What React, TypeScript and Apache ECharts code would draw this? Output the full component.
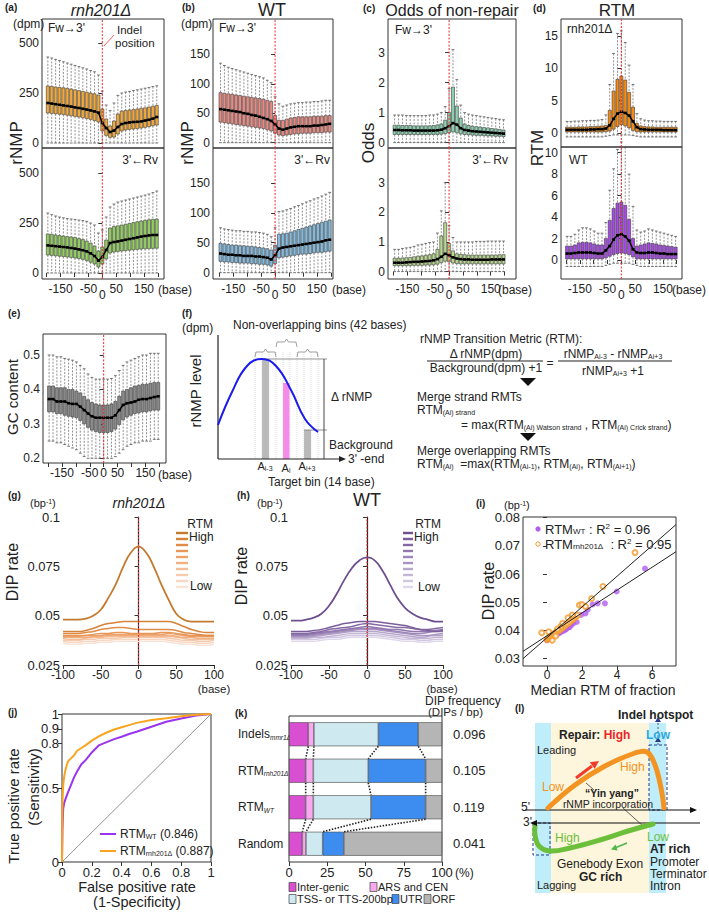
import React, { useEffect, useRef } from 'react';
import * as echarts from 'echarts';

const FONT = '"Liberation Sans", Arial, Helvetica, sans-serif';

// ---------- box-plot panels (a)-(e): bin centres (bases) ----------
const binPos = [-196,-182,-168,-154,-140,-126,-112,-98,-84,-70,-56,-42,-28,-14,0,14,28,42,56,70,84,98,112,126,140,154,168,182,196];

// (a) rnh201Δ forward
const aFwMed = [200,197,194,191,188,185,182,178,175,171,167,163,158,152,100,75,55,62,80,95,100,103,105,106,108,112,116,122,130];
const aFwQ3 = [285,283,280,278,276,273,270,266,262,258,254,250,246,240,170,120,85,110,145,160,163,165,167,170,173,176,180,184,188];
const aFwQ1 = [150,148,146,144,142,139,136,133,130,126,122,118,112,105,60,38,28,30,45,60,65,68,70,72,75,78,82,86,90];
const aFwHi = [430,425,418,412,406,400,394,388,382,376,370,362,356,340,260,190,162,200,238,250,255,258,262,266,270,274,278,282,286];
const aFwLo = [0,0,0,0,0,0,0,0,0,0,0,0,0,0,0,0,0,0,0,0,0,0,0,0,0,0,0,0,0];
// (a) rnh201Δ reverse
const aRvMed = [138,136,134,132,130,128,125,122,118,114,108,98,85,62,80,115,150,155,158,162,166,170,174,178,182,185,188,190,190];
const aRvQ3 = [195,193,190,187,185,182,180,177,172,167,160,150,135,110,130,165,225,232,236,240,244,248,252,256,260,263,266,268,270];
const aRvQ1 = [90,88,86,84,82,80,78,75,72,68,62,54,45,30,45,70,100,105,108,110,112,114,116,118,120,121,122,123,124];
const aRvHi = [300,292,285,280,276,272,270,268,265,262,258,250,240,200,215,280,330,345,355,360,365,370,375,380,385,390,395,402,410];
const aRvLo = [0,0,0,0,0,0,0,0,0,0,0,0,0,0,0,0,0,0,0,0,0,0,0,0,0,0,0,0,0];
// (b) WT forward
const bFwMed = [57,56,55,54,53,52,50,49,47,46,44,42,40,37,31,24,22,24,26,27,28,28,28,28,29,29,30,31,32];
const bFwQ3 = [85,84,83,82,81,80,79,78,77,76,75,74,72,70,46,38,38,40,42,43,44,44,44,44,45,45,45,46,46];
const bFwQ1 = [35,34,33,32,31,30,29,28,27,26,25,24,22,20,16,13,12,13,14,15,15,16,16,16,17,17,17,18,18];
const bFwHi = [135,131,128,126,124,122,120,118,116,114,112,110,106,102,78,66,62,64,66,67,68,68,69,69,70,70,71,72,72];
const bFwLo = [0,0,0,0,0,0,0,0,0,0,0,0,0,0,0,0,0,0,0,0,0,0,0,0,0,0,0,0,0];
// (b) WT reverse
const bRvMed = [32,31,30,30,29,29,28,28,28,27,27,26,25,22,29,40,42,43,44,45,46,47,48,49,50,51,52,54,55];
const bRvQ3 = [49,48,47,46,46,45,45,44,44,43,42,41,40,38,46,64,65,66,68,70,72,74,76,78,80,82,84,86,88];
const bRvQ1 = [19,18,18,17,17,16,16,16,15,15,14,14,13,11,15,25,26,27,28,29,30,31,31,32,33,34,34,35,36];
const bRvHi = [75,73,72,71,70,70,69,69,68,68,67,66,64,60,75,102,103,105,107,110,112,115,118,120,123,125,128,131,134];
const bRvLo = [0,0,0,0,0,0,0,0,0,0,0,0,0,0,0,0,0,0,0,0,0,0,0,0,0,0,0,0,0];
// (c) odds forward
const cFwMed = [0.42,0.42,0.41,0.41,0.41,0.40,0.40,0.40,0.40,0.40,0.40,0.41,0.43,0.48,0.55,0.65,0.60,0.48,0.42,0.40,0.38,0.37,0.36,0.35,0.34,0.33,0.32,0.31,0.30];
const cFwQ3 = [0.58,0.58,0.57,0.57,0.57,0.56,0.56,0.56,0.56,0.56,0.57,0.59,0.62,0.75,1.00,1.85,1.22,0.82,0.62,0.57,0.55,0.53,0.52,0.50,0.49,0.47,0.46,0.44,0.42];
const cFwQ1 = [0.27,0.27,0.27,0.27,0.27,0.27,0.27,0.27,0.27,0.27,0.27,0.27,0.28,0.30,0.33,0.36,0.33,0.29,0.27,0.26,0.25,0.24,0.24,0.23,0.22,0.22,0.21,0.21,0.20];
const cFwHi = [0.92,0.92,0.92,0.90,0.90,0.90,0.90,0.90,0.90,0.92,0.92,0.95,1.00,1.20,1.80,3.10,2.10,1.25,1.00,0.95,0.92,0.90,0.88,0.86,0.84,0.82,0.80,0.78,0.76];
const cFwLo = [0,0,0,0,0,0,0,0,0,0,0,0,0,0,0,0,0,0,0,0,0,0,0,0,0,0,0,0,0];
// (c) odds reverse
const cRvMed = [0.30,0.30,0.30,0.31,0.32,0.33,0.33,0.34,0.35,0.36,0.38,0.42,0.50,0.60,0.55,0.48,0.44,0.42,0.41,0.41,0.40,0.40,0.40,0.40,0.40,0.41,0.41,0.41,0.41];
const cRvQ3 = [0.45,0.45,0.46,0.47,0.48,0.50,0.52,0.53,0.55,0.57,0.60,0.75,1.20,1.65,0.95,0.70,0.60,0.58,0.57,0.56,0.56,0.56,0.56,0.56,0.56,0.56,0.56,0.57,0.57];
const cRvQ1 = [0.20,0.20,0.20,0.20,0.20,0.21,0.21,0.21,0.22,0.22,0.23,0.25,0.30,0.35,0.33,0.29,0.27,0.26,0.26,0.26,0.26,0.26,0.26,0.26,0.26,0.26,0.26,0.26,0.26];
const cRvHi = [0.75,0.75,0.78,0.80,0.82,0.85,0.90,0.92,0.95,0.98,1.00,1.30,2.05,3.00,1.55,1.15,1.00,1.00,1.00,1.00,1.00,1.02,1.02,1.02,1.03,1.03,1.03,1.03,1.03];
const cRvLo = [0,0,0,0,0,0,0,0,0,0,0,0,0,0,0,0,0,0,0,0,0,0,0,0,0,0,0,0,0];
// (d) RTM rnh201Δ
const dRnMed = [0.50,0.50,0.50,0.50,0.50,0.50,0.55,0.55,0.60,0.60,0.70,1.20,2.20,3.00,3.30,3.10,2.70,1.80,0.90,0.60,0.55,0.50,0.50,0.50,0.50,0.45,0.45,0.45,0.45];
const dRnQ3 = [0.90,0.90,0.90,0.95,0.95,0.95,1.00,1.00,1.05,1.10,1.20,3.50,6.50,8.30,8.80,8.20,6.30,4.00,1.50,1.10,1.00,0.95,0.95,0.90,0.90,0.90,0.90,0.90,0.90];
const dRnQ1 = [0.15,0.15,0.15,0.15,0.15,0.15,0.15,0.15,0.15,0.15,0.20,0.30,0.60,1.00,1.30,1.10,0.80,0.40,0.20,0.15,0.15,0.15,0.15,0.15,0.15,0.15,0.15,0.15,0.15];
const dRnHi = [1.80,1.80,1.85,1.85,1.90,1.90,1.95,1.95,2.00,2.10,2.80,7.50,12.3,15.4,15.8,14.0,10.5,7.50,3.00,2.20,2.00,1.90,1.90,1.85,1.85,1.80,1.80,1.80,1.80];
const dRnLo = [-0.6,-0.6,-0.6,-0.6,-0.6,-0.6,-0.6,-0.6,-0.6,-0.6,-0.5,-0.4,-0.3,-0.3,-0.3,-0.3,-0.3,-0.4,-0.5,-0.6,-0.6,-0.6,-0.6,-0.6,-0.6,-0.6,-0.6,-0.6,-0.6];
// (d) RTM WT
const dWtMed = [0.60,0.60,0.65,0.70,0.70,0.70,0.70,0.65,0.60,0.60,0.90,1.30,1.90,2.30,2.40,2.20,1.80,1.00,0.70,0.65,0.65,0.70,0.70,0.65,0.60,0.60,0.55,0.55,0.55];
const dWtQ3 = [1.30,1.30,1.40,1.60,1.65,1.65,1.60,1.50,1.40,1.40,2.00,3.70,4.80,5.30,5.40,5.10,3.80,2.00,1.30,1.40,1.50,1.60,1.55,1.50,1.40,1.35,1.30,1.25,1.20];
const dWtQ1 = [0.10,0.10,0.10,0.10,0.10,0.10,0.10,0.10,0.10,0.10,0.20,0.35,0.50,0.60,0.65,0.60,0.50,0.30,0.10,0.10,0.10,0.10,0.10,0.10,0.10,0.10,0.10,0.10,0.10];
const dWtHi = [2.20,2.20,2.40,2.80,3.00,3.00,2.90,2.70,2.50,2.50,3.50,6.50,8.50,10.3,11.0,10.5,8.00,5.00,2.80,2.60,2.70,2.90,2.80,2.70,2.60,2.50,2.40,2.30,2.20];
const dWtLo = [-0.6,-0.6,-0.6,-0.6,-0.6,-0.6,-0.6,-0.6,-0.6,-0.6,-0.5,-0.4,-0.3,-0.3,-0.3,-0.3,-0.3,-0.4,-0.5,-0.6,-0.6,-0.6,-0.6,-0.6,-0.6,-0.6,-0.6,-0.6,-0.6];
// (e) GC content
const eMed = [0.372,0.372,0.365,0.365,0.365,0.360,0.358,0.358,0.350,0.340,0.330,0.322,0.318,0.318,0.318,0.318,0.318,0.325,0.340,0.355,0.360,0.362,0.365,0.370,0.372,0.372,0.375,0.378,0.380];
const eQ3 = [0.410,0.410,0.405,0.405,0.405,0.400,0.400,0.395,0.390,0.380,0.370,0.362,0.358,0.355,0.355,0.355,0.358,0.365,0.380,0.395,0.400,0.405,0.410,0.412,0.415,0.415,0.418,0.420,0.420];
const eQ1 = [0.335,0.335,0.330,0.330,0.325,0.322,0.320,0.318,0.310,0.300,0.290,0.282,0.278,0.275,0.275,0.275,0.278,0.285,0.298,0.312,0.320,0.325,0.330,0.332,0.335,0.335,0.338,0.340,0.340];
const eHi = [0.500,0.500,0.495,0.495,0.490,0.488,0.485,0.480,0.470,0.460,0.445,0.435,0.430,0.430,0.430,0.430,0.432,0.440,0.455,0.470,0.480,0.485,0.490,0.495,0.500,0.500,0.505,0.505,0.505];
const eLo = [0.250,0.250,0.245,0.245,0.240,0.235,0.230,0.225,0.215,0.205,0.200,0.200,0.200,0.200,0.200,0.200,0.200,0.205,0.215,0.225,0.235,0.240,0.245,0.245,0.250,0.250,0.250,0.255,0.255];

// ---------- (g)/(h) DIP-rate profiles ----------
const profX = [-100,-90,-80,-70,-60,-50,-40,-30,-20,-10,0,10,20,30,40,50,60,70,80,90,100];
const gLines = [
  [0.048,0.048,0.048,0.0485,0.050,0.053,0.059,0.066,0.075,0.082,0.085,0.082,0.075,0.066,0.058,0.051,0.048,0.047,0.047,0.047,0.047],
  [0.042,0.042,0.042,0.0425,0.0435,0.045,0.046,0.0465,0.047,0.047,0.047,0.047,0.047,0.047,0.047,0.046,0.0445,0.043,0.042,0.0415,0.0415],
  [0.041,0.041,0.041,0.0415,0.042,0.043,0.0435,0.044,0.044,0.0435,0.043,0.043,0.043,0.043,0.043,0.0425,0.0415,0.041,0.0405,0.040,0.040],
  [0.040,0.040,0.040,0.040,0.0405,0.041,0.041,0.0415,0.0415,0.041,0.041,0.041,0.041,0.0415,0.0415,0.041,0.0405,0.040,0.040,0.040,0.040],
  [0.0395,0.0395,0.0395,0.040,0.040,0.040,0.0405,0.0405,0.0405,0.0405,0.0405,0.0405,0.0405,0.0405,0.041,0.0405,0.040,0.0395,0.0395,0.0395,0.0395],
  [0.039,0.039,0.039,0.039,0.0395,0.0395,0.040,0.040,0.040,0.040,0.040,0.040,0.040,0.040,0.040,0.0395,0.039,0.039,0.0385,0.0385,0.0385],
  [0.0385,0.038,0.038,0.0385,0.039,0.039,0.0395,0.0395,0.0395,0.0395,0.0395,0.0395,0.0395,0.0395,0.0395,0.039,0.0385,0.038,0.038,0.038,0.038],
  [0.0375,0.0375,0.0375,0.038,0.038,0.0385,0.0385,0.0385,0.039,0.039,0.039,0.039,0.039,0.039,0.0385,0.038,0.0375,0.0375,0.037,0.037,0.0375],
  [0.037,0.0365,0.0365,0.037,0.037,0.0375,0.0375,0.038,0.038,0.038,0.038,0.038,0.038,0.038,0.0375,0.037,0.0365,0.0365,0.036,0.036,0.0365],
  [0.036,0.0355,0.0355,0.036,0.036,0.0365,0.0365,0.037,0.037,0.037,0.037,0.037,0.037,0.037,0.0365,0.036,0.0355,0.0355,0.035,0.035,0.0355],
];
const hLines = [
  [0.0475,0.0475,0.048,0.049,0.051,0.055,0.061,0.068,0.074,0.078,0.0795,0.078,0.073,0.066,0.059,0.054,0.051,0.049,0.048,0.047,0.047],
  [0.042,0.042,0.042,0.0425,0.043,0.044,0.045,0.046,0.0465,0.047,0.047,0.047,0.0465,0.046,0.0455,0.045,0.044,0.043,0.0425,0.042,0.0425],
  [0.041,0.041,0.041,0.0415,0.042,0.043,0.0435,0.044,0.0445,0.0455,0.046,0.0455,0.045,0.0445,0.044,0.044,0.0435,0.043,0.043,0.0435,0.044],
  [0.0405,0.0405,0.0405,0.041,0.0415,0.042,0.0425,0.043,0.0435,0.044,0.0445,0.044,0.0435,0.043,0.043,0.0425,0.042,0.042,0.042,0.0425,0.043],
  [0.040,0.040,0.040,0.0405,0.041,0.0415,0.042,0.0425,0.043,0.0435,0.0435,0.0435,0.043,0.0425,0.042,0.0415,0.041,0.041,0.0415,0.042,0.042],
  [0.0395,0.0395,0.0395,0.040,0.0405,0.041,0.0415,0.042,0.0425,0.043,0.043,0.043,0.0425,0.042,0.0415,0.041,0.0405,0.040,0.040,0.0405,0.041],
  [0.039,0.039,0.039,0.0395,0.040,0.0405,0.041,0.0415,0.042,0.042,0.042,0.042,0.0415,0.041,0.0405,0.040,0.0395,0.039,0.0395,0.040,0.040],
  [0.0385,0.0385,0.0385,0.039,0.039,0.0395,0.040,0.0405,0.041,0.041,0.041,0.041,0.0405,0.040,0.0395,0.039,0.0385,0.0385,0.0385,0.039,0.039],
  [0.038,0.038,0.038,0.038,0.0385,0.039,0.039,0.0395,0.040,0.040,0.040,0.040,0.0395,0.039,0.0385,0.038,0.038,0.0375,0.0375,0.038,0.038],
  [0.037,0.037,0.037,0.037,0.0375,0.038,0.038,0.0385,0.039,0.039,0.039,0.039,0.0385,0.038,0.0375,0.037,0.037,0.0365,0.0365,0.037,0.037],
];
const gColors = ['#c47a2e','#d5833b','#e08c47','#e89758','#eda26b','#f0b082','#f3bd97','#f5caad','#f7d7c3','#f9e3d7'];
const hColors = ['#6e4f8f','#7a5d9a','#8569a4','#9177ae','#9d86b8','#aa96c2','#b7a6cc','#c4b6d6','#d1c7e0','#dfd8ea'];

// ---------- (i) scatter ----------
const iWtX = [0.0,0.05,0.1,0.15,0.2,0.25,0.3,0.35,0.4,0.5,0.6,0.7,0.8,0.9,1.0,1.1,1.2,1.3,1.4,1.5,1.7,1.95,2.2,2.33,2.61,2.9,3.31,3.98,5.6];
const iWtY = [0.0365,0.0368,0.037,0.0372,0.0375,0.0374,0.0378,0.038,0.0382,0.0385,0.0388,0.039,0.0395,0.0398,0.04,0.0405,0.041,0.0412,0.042,0.0425,0.043,0.0455,0.046,0.0474,0.0492,0.0496,0.0496,0.0538,0.0619];
const iRnX = [0.0,0.05,0.1,0.15,0.2,0.25,0.3,0.35,0.4,0.45,0.5,0.6,0.7,0.8,0.9,1.0,1.1,1.2,1.3,1.4,1.5,1.6,1.66,1.75,1.85,2.0,2.2,2.55,3.2,5.03,-0.3,0.1,0.3,0.5,0.8,1.2,0.6,0.9,1.45];
const iRnY = [0.0368,0.037,0.0372,0.0375,0.0378,0.038,0.0382,0.0385,0.0388,0.039,0.0393,0.0397,0.04,0.0405,0.041,0.0415,0.042,0.0425,0.043,0.0435,0.044,0.0445,0.045,0.0455,0.049,0.0492,0.0485,0.0513,0.0556,0.0676,0.0392,0.0395,0.0365,0.038,0.0415,0.0445,0.0405,0.0425,0.0455];
const iFitWtX = [-1.37,7.37];
const iFitWtY = [0.0326,0.0679];
const iFitRnX = [-1.37,7.37];
const iFitRnY = [0.0300,0.0775];

// ---------- (j) ROC ----------
const rocWtFpr = [0,0.003,0.008,0.015,0.025,0.04,0.06,0.08,0.1,0.13,0.16,0.2,0.25,0.3,0.35,0.4,0.45,0.5,0.6,0.7,0.8,0.9,1];
const rocWtTpr = [0,0.22,0.36,0.4,0.43,0.47,0.52,0.57,0.61,0.66,0.69,0.74,0.79,0.81,0.83,0.846,0.865,0.88,0.914,0.948,0.97,0.99,1];
const rocRnFpr = [0,0.003,0.008,0.015,0.025,0.04,0.06,0.08,0.1,0.13,0.16,0.2,0.25,0.3,0.35,0.4,0.45,0.5,0.6,0.7,0.8,0.9,1];
const rocRnTpr = [0,0.4,0.52,0.58,0.63,0.68,0.7,0.72,0.75,0.77,0.79,0.82,0.85,0.875,0.895,0.91,0.925,0.94,0.96,0.972,0.985,0.995,1];

// ---------- (k) genomic composition ----------
const kCats = ['Indels mmr1Δ', 'RTM rnh201Δ', 'RTM WT', 'Random'];
const kNames = ['Inter-genic', 'ARS and CEN', 'TSS- or TTS-200bp', 'UTR', 'ORF'];
const kIntergenic = [12.6, 10.9, 10.9, 8.7];
const kArs = [3.7, 5.0, 5.0, 2.4];
const kTss = [42.1, 35.9, 37.7, 10.9];
const kUtr = [26.1, 37.5, 35.7, 13.9];
const kOrf = [15.5, 10.7, 10.7, 64.1];
const kDipFreq = ['0.096', '0.105', '0.119', '0.041'];
const kColors = ['#d94fd2', '#f8a9f0', '#cfe9f1', '#3d8df0', '#b5b5b5'];

// ---------------------------------------------------------------
const txt = (x: number, y: number, text: string, o: any = {}) => ({
  type: 'text', x, y, rotation: o.rot || 0, z: 100,
  style: {
    text, fill: o.color || '#222', fontSize: o.size || 12, fontFamily: FONT,
    fontWeight: o.bold ? 'bold' : 'normal', fontStyle: o.italic ? 'italic' : 'normal',
    align: o.align || 'left', verticalAlign: o.va || 'middle', rich: o.rich,
  },
});
const richSet = (size: number, color = '#222') => ({
  m: { fontSize: size, fontFamily: FONT, fill: color, color },
  b: { fontSize: size, fontFamily: FONT, fill: color, color, fontWeight: 'bold' },
  s: { fontSize: Math.round(size * 0.6), fontFamily: FONT, fill: color, color, verticalAlign: 'bottom' },
  si: { fontSize: Math.round(size * 0.6), fontFamily: FONT, fill: color, color, verticalAlign: 'bottom', fontStyle: 'italic' },
  p: { fontSize: Math.round(size * 0.6), fontFamily: FONT, fill: color, color, verticalAlign: 'top' },
  r: { fontSize: size, fontFamily: FONT, fill: '#e8262a', color: '#e8262a', fontWeight: 'bold' },
});
const ln = (x1: number, y1: number, x2: number, y2: number, o: any = {}) => ({
  type: 'line', z: 90, shape: { x1, y1, x2, y2 },
  style: { stroke: o.color || '#222', lineWidth: o.w || 1, lineDash: o.dash || null },
});
const poly = (points: number[][], fill: string) => ({ type: 'polygon', z: 95, shape: { points }, style: { fill } });
const rect = (x: number, y: number, w: number, h: number, fill: string, stroke?: string, o: any = {}) => ({
  type: 'rect', z: o.z || 80, shape: { x, y, width: w, height: h },
  style: { fill, stroke: stroke || null, lineWidth: o.lw || 0.7, lineDash: o.dash || null },
});

function buildOption() {
  const grid: any[] = [];
  const xAxis: any[] = [];
  const yAxis: any[] = [];
  const series: any[] = [];
  const addGrid = (g: any, xa: any, ya: any) => {
    grid.push(g);
    const gi = grid.length - 1;
    xAxis.push({ gridIndex: gi, ...xa });
    yAxis.push({ gridIndex: gi, ...ya });
    return { gi, xi: xAxis.length - 1, yi: yAxis.length - 1 };
  };
  const tickStyle = { lineStyle: { color: '#333', width: 1 } };
  const lbl = (size = 12) => ({ fontSize: size, color: '#222', fontFamily: FONT });

  // ---------- box panels ----------
  const boxRender = (color: string) => (params: any, api: any) => {
    const x = api.value(0);
    const pLo = api.coord([x, api.value(1)]);
    const pQ1 = api.coord([x, api.value(2)]);
    const pMed = api.coord([x, api.value(3)]);
    const pQ3 = api.coord([x, api.value(4)]);
    const pHi = api.coord([x, api.value(5)]);
    const w = api.size([11, 0])[0];
    const cx = pMed[0];
    const dash = { stroke: '#757575', lineWidth: 0.8, lineDash: [2, 1.4] };
    const cap = { stroke: '#555', lineWidth: 0.8 };
    return {
      type: 'group',
      children: [
        { type: 'line', shape: { x1: cx, y1: pHi[1], x2: cx, y2: pQ3[1] }, style: dash },
        { type: 'line', shape: { x1: cx, y1: pQ1[1], x2: cx, y2: pLo[1] }, style: dash },
        { type: 'line', shape: { x1: cx - 1.4, y1: pHi[1], x2: cx + 1.4, y2: pHi[1] }, style: cap },
        { type: 'line', shape: { x1: cx - 1.4, y1: pLo[1], x2: cx + 1.4, y2: pLo[1] }, style: cap },
        { type: 'rect', shape: { x: cx - w / 2, y: pQ3[1], width: w, height: pQ1[1] - pQ3[1] }, style: { fill: color, stroke: '#3a3a3a', lineWidth: 0.6 } },
        { type: 'line', shape: { x1: cx - w / 2, y1: pMed[1], x2: cx + w / 2, y2: pMed[1] }, style: { stroke: '#000', lineWidth: 2.6 } },
      ],
    };
  };
  const boxPanels = [
    { r: [42, 19, 122, 129], xr: [-217, 222], yr: [-25, 620], yt: [0, 250, 500], showX: false, lo: aFwLo, q1: aFwQ1, med: aFwMed, q3: aFwQ3, hi: aFwHi, color: '#f2a93b', z0: true },
    { r: [42, 148, 122, 131], xr: [-217, 222], yr: [-30, 625], yt: [0, 250, 500], showX: true, lo: aRvLo, q1: aRvQ1, med: aRvMed, q3: aRvQ3, hi: aRvHi, color: '#93cd62', z0: true },
    { r: [213, 19, 120, 129], xr: [-223, 208], yr: [-9, 210], yt: [0, 50, 100, 150], showX: false, lo: bFwLo, q1: bFwQ1, med: bFwMed, q3: bFwQ3, hi: bFwHi, color: '#e98a82', z0: true },
    { r: [213, 148, 120, 131], xr: [-223, 208], yr: [-10.5, 208], yt: [0, 50, 100, 150], showX: true, lo: bRvLo, q1: bRvQ1, med: bRvMed, q3: bRvQ3, hi: bRvHi, color: '#82b9dc', z0: true },
    { r: [388, 19, 128, 129], xr: [-220, 241], yr: [-0.18, 4.12], yt: [0, 1, 2, 3], showX: false, lo: cFwLo, q1: cFwQ1, med: cFwMed, q3: cFwQ3, hi: cFwHi, color: '#8dd1b0', z0: true },
    { r: [388, 148, 128, 131], xr: [-220, 241], yr: [-0.25, 4.17], yt: [0, 1, 2, 3], showX: true, lo: cRvLo, q1: cRvQ1, med: cRvMed, q3: cRvQ3, hi: cRvHi, color: '#b8d78f', z0: true },
    { r: [561, 19, 121, 128], xr: [-218, 219], yr: [-2.16, 17.63], yt: [-1, 0, 5, 10, 15], showX: false, lo: dRnLo, q1: dRnQ1, med: dRnMed, q3: dRnQ3, hi: dRnHi, color: '#f68b12', z0: true },
    { r: [561, 147, 121, 132], xr: [-218, 219], yr: [-1.77, 10.53], yt: [-1, 0, 2, 4, 6, 8, 10], showX: true, lo: dWtLo, q1: dWtQ1, med: dWtMed, q3: dWtQ3, hi: dWtHi, color: '#a84ae8', z0: true },
    { r: [43, 334, 123, 129], xr: [-218, 224], yr: [0.1864, 0.561], yt: [0.2, 0.3, 0.4, 0.5], showX: true, lo: eLo, q1: eQ1, med: eMed, q3: eQ3, hi: eHi, color: '#8a8a8a', z0: false },
  ];
  const xTickVals = [-200, -150, -100, -50, 0, 50, 100, 150, 200];
  const xLabVals = [-150, -50, 0, 50, 150];
  boxPanels.forEach((p) => {
    const { xi, yi } = addGrid(
      { left: p.r[0], top: p.r[1], width: p.r[2], height: p.r[3], show: true, borderColor: '#333', borderWidth: 1 },
      {
        type: 'value', min: p.xr[0], max: p.xr[1], axisLine: { show: false }, splitLine: { show: false },
        axisTick: { show: p.showX, length: 4, customValues: xTickVals, ...tickStyle },
        axisLabel: {
          show: p.showX, customValues: xLabVals, margin: 4, ...lbl(12),
          formatter: (v: number) => (v === 0 && p.z0 ? '{z|0}' : String(v)),
          rich: { z: { fontSize: 12, color: '#222', fontFamily: FONT, padding: [6, 0, 0, 0] } },
        },
      },
      {
        type: 'value', min: p.yr[0], max: p.yr[1], axisLine: { show: false }, splitLine: { show: false },
        axisTick: { show: true, length: 4, customValues: p.yt, ...tickStyle },
        axisLabel: { customValues: p.yt, margin: 3, ...lbl(12), formatter: (v: number) => String(v) },
      },
    );
    series.push({
      type: 'custom', xAxisIndex: xi, yAxisIndex: yi, renderItem: boxRender(p.color), z: 2,
      encode: { x: 0, y: [1, 2, 3, 4, 5] },
      data: binPos.map((x, i) => [x, p.lo[i], p.q1[i], p.med[i], p.q3[i], p.hi[i]]),
    });
    series.push({
      type: 'line', xAxisIndex: xi, yAxisIndex: yi, symbol: 'none', z: 4, silent: true,
      lineStyle: { color: '#000', width: 1.5 }, data: binPos.map((x, i) => [x, p.med[i]]),
    });
    series.push({
      type: 'line', xAxisIndex: xi, yAxisIndex: yi, symbol: 'none', z: 6, silent: true,
      lineStyle: { color: '#ee2a2a', width: 1, type: [2, 1.5] }, data: [[0, p.yr[0]], [0, p.yr[1]]],
    });
  });

  // ---------- (g) and (h) ----------
  const profPanel = (left: number, top: number, w: number, h: number, lines: number[][], colors: string[]) => {
    const { xi, yi } = addGrid(
      { left, top, width: w, height: h, show: false },
      {
        type: 'value', min: -100, max: 100, interval: 50, splitLine: { show: false },
        axisLine: { show: true, onZero: false, lineStyle: { color: '#222', width: 1.2 } },
        axisTick: { show: true, length: 4, ...tickStyle }, axisLabel: { margin: 4, ...lbl(12) },
      },
      {
        type: 'value', min: 0.025, max: 0.1, splitLine: { show: false },
        axisLine: { show: true, lineStyle: { color: '#222', width: 1.2 } },
        axisTick: { show: true, length: 4, customValues: [0.025, 0.05, 0.075, 0.1], ...tickStyle },
        axisLabel: { customValues: [0.025, 0.05, 0.075, 0.1], margin: 3, ...lbl(13), formatter: (v: number) => String(v) },
      },
    );
    for (let k = lines.length - 1; k >= 0; k--) {
      series.push({
        type: 'line', xAxisIndex: xi, yAxisIndex: yi, symbol: 'none', smooth: 0.5, z: 3 + (10 - k) * 0.01,
        lineStyle: { color: colors[k], width: k === 0 ? 1.8 : 1.5 }, data: profX.map((x, i) => [x, lines[k][i]]),
      });
    }
    series.push({
      type: 'line', xAxisIndex: xi, yAxisIndex: yi, symbol: 'none', z: 5, silent: true,
      lineStyle: { color: '#ee2a2a', width: 1, type: [2, 1.5] }, data: [[0, 0.025], [0, 0.1]],
    });
  };
  profPanel(63, 517, 151, 148, gLines, gColors);
  profPanel(291, 517, 152, 148, hLines, hColors);

  // ---------- (i) scatter ----------
  {
    const { xi, yi } = addGrid(
      { left: 523, top: 517, width: 153, height: 149, show: true, borderColor: '#333', borderWidth: 1 },
      {
        type: 'value', min: -1.37, max: 7.37, splitLine: { show: false }, axisLine: { show: false },
        axisTick: { show: true, length: 4, customValues: [0, 2, 4, 6], ...tickStyle },
        axisLabel: { customValues: [0, 2, 4, 6], margin: 3, ...lbl(12) },
      },
      {
        type: 'value', min: 0.0274, max: 0.0802, splitLine: { show: false }, axisLine: { show: false },
        axisTick: { show: true, length: 4, customValues: [0.03, 0.04, 0.05, 0.06, 0.07, 0.08], ...tickStyle },
        axisLabel: { customValues: [0.03, 0.04, 0.05, 0.06, 0.07, 0.08], margin: 3, ...lbl(13), formatter: (v: number) => v.toFixed(2) },
      },
    );
    series.push({
      type: 'line', xAxisIndex: xi, yAxisIndex: yi, symbol: 'none', z: 5, lineStyle: { color: '#222', width: 1 },
      data: iFitWtX.map((x, i) => [x, iFitWtY[i]]),
    });
    series.push({
      type: 'line', xAxisIndex: xi, yAxisIndex: yi, symbol: 'none', z: 5, lineStyle: { color: '#222', width: 1 },
      data: iFitRnX.map((x, i) => [x, iFitRnY[i]]),
    });
    series.push({
      type: 'scatter', xAxisIndex: xi, yAxisIndex: yi, symbol: 'circle', symbolSize: 6, z: 3,
      itemStyle: { color: '#b35cf0' }, data: iWtX.map((x, i) => [x, iWtY[i]]),
    });
    series.push({
      type: 'scatter', xAxisIndex: xi, yAxisIndex: yi, symbol: 'emptyCircle', symbolSize: 5, z: 4,
      itemStyle: { color: '#f39a2b', borderWidth: 1.1 }, data: iRnX.map((x, i) => [x, iRnY[i]]),
    });
  }

  // ---------- (j) ROC ----------
  {
    const jt = [0, 0.5, 0.8, 0.9, 1];
    const jx = [0, 0.2, 0.4, 0.6, 0.8, 1];
    const { xi, yi } = addGrid(
      { left: 62, top: 714, width: 149, height: 148, show: true, borderColor: '#333', borderWidth: 1 },
      {
        type: 'value', min: 0, max: 1, splitLine: { show: false }, axisLine: { show: false },
        axisTick: { show: true, length: 4, customValues: jx, ...tickStyle },
        axisLabel: { customValues: jx, margin: 4, ...lbl(13), formatter: (v: number) => String(v) },
      },
      {
        type: 'value', min: 0, max: 1, splitLine: { show: false }, axisLine: { show: false },
        axisTick: { show: true, length: 4, customValues: jt, ...tickStyle },
        axisLabel: { customValues: jt, margin: 3, ...lbl(13), formatter: (v: number) => String(v) },
      },
    );
    series.push({
      type: 'line', xAxisIndex: xi, yAxisIndex: yi, symbol: 'none', z: 2, lineStyle: { color: '#777', width: 0.8 },
      data: [[0, 0], [1, 1]],
    });
    series.push({
      type: 'line', xAxisIndex: xi, yAxisIndex: yi, symbol: 'none', z: 3, lineStyle: { color: '#9a34f0', width: 2 },
      data: rocWtFpr.map((x, i) => [x, rocWtTpr[i]]),
    });
    series.push({
      type: 'line', xAxisIndex: xi, yAxisIndex: yi, symbol: 'none', z: 4, lineStyle: { color: '#f9a41e', width: 2 },
      data: rocRnFpr.map((x, i) => [x, rocRnTpr[i]]),
    });
  }

  // ---------- (k) stacked bars ----------
  {
    const { gi, xi, yi } = addGrid(
      { left: 289, top: 716, width: 153, height: 146, show: true, borderColor: '#333', borderWidth: 1 },
      {
        type: 'value', min: 0, max: 100, interval: 25, splitLine: { show: false }, axisLine: { show: false },
        axisTick: { show: true, length: 4, ...tickStyle }, axisLabel: { margin: 4, ...lbl(13) },
      },
      {
        type: 'category', inverse: true, data: kCats, axisLine: { show: false }, axisTick: { show: false },
        axisLabel: {
          margin: 51, align: 'left', ...lbl(12),
          formatter: (v: string) => {
            const sp = v.indexOf(' ');
            return sp < 0 ? '{m|' + v + '}' : '{m|' + v.slice(0, sp) + '}{s|' + v.slice(sp + 1) + '}';
          },
          rich: {
            m: { fontSize: 12, color: '#222', fontFamily: FONT },
            s: { fontSize: 6.5, color: '#222', fontFamily: FONT, fontStyle: 'italic', verticalAlign: 'bottom', padding: [6, 0, 0, 0] },
          },
        },
      },
    );
    yAxis.push({
      gridIndex: gi, type: 'category', inverse: true, position: 'right', data: kDipFreq,
      axisLine: { show: false }, axisTick: { show: false }, axisLabel: { margin: 11, ...lbl(13) },
    });
    const segs = [kIntergenic, kArs, kTss, kUtr, kOrf];
    segs.forEach((s, j) => {
      series.push({
        type: 'bar', name: kNames[j], xAxisIndex: xi, yAxisIndex: yi, stack: 'k', barWidth: 24, z: 2,
        itemStyle: { color: kColors[j], borderColor: '#444', borderWidth: 0.6 }, data: s,
      });
    });
    const cum = kCats.map((_, i) => {
      const c = [0];
      segs.forEach((s) => c.push(c[c.length - 1] + s[i]));
      return c;
    });
    const conn: number[][] = [];
    for (let i = 0; i < 3; i++) for (let j = 1; j <= 4; j++) conn.push([cum[i][j], i, cum[i + 1][j], i + 1]);
    series.push({
      type: 'custom', xAxisIndex: xi, yAxisIndex: yi, z: 5, encode: { x: [0, 2], y: [1, 3] }, data: conn,
      renderItem: (params: any, api: any) => {
        const p1 = api.coord([api.value(0), api.value(1)]);
        const p2 = api.coord([api.value(2), api.value(3)]);
        return {
          type: 'line', shape: { x1: p1[0], y1: p1[1] + 12, x2: p2[0], y2: p2[1] - 12 },
          style: { stroke: '#222', lineWidth: 1.6, lineDash: [1.5, 1.5] },
        };
      },
    });
  }

  // ---------- graphic texts & schematic ----------
  const R12 = richSet(12);
  const R13 = richSet(13);
  const g: any[] = [];
  // panel letters
  [['(a)', 5, 7], ['(b)', 182, 7], ['(c)', 363, 8], ['(d)', 533, 8], ['(e)', 8, 313], ['(f)', 182, 313],
   ['(g)', 8, 495], ['(h)', 237, 495], ['(i)', 476, 503], ['(j)', 8, 712], ['(k)', 235, 713], ['(l)', 515, 708]]
    .forEach(([t, x, y]: any) => g.push(txt(x, y, t, { size: 10, bold: true })));
  // titles row 1
  g.push(txt(101, 10, 'rnh201Δ', { size: 16, italic: true, align: 'center' }));
  g.push(txt(272, 10, 'WT', { size: 18, align: 'center' }));
  g.push(txt(452, 10, 'Odds of non-repair', { size: 16, align: 'center' }));
  g.push(txt(617, 10, 'RTM', { size: 17, align: 'center' }));
  g.push(txt(13, 24, '(dpm)', { size: 12 }));
  g.push(txt(181, 24, '(dpm)', { size: 12 }));
  g.push(txt(16, 143, 'rNMP', { size: 17, rot: Math.PI / 2, align: 'center' }));
  g.push(txt(187, 143, 'rNMP', { size: 17, rot: Math.PI / 2, align: 'center' }));
  g.push(txt(368, 143, 'Odds', { size: 17, rot: Math.PI / 2, align: 'center' }));
  g.push(txt(537, 148, 'RTM', { size: 17, rot: Math.PI / 2, align: 'center' }));
  g.push(txt(48, 28, 'Fw→3\'', { size: 12 }));
  g.push(txt(219, 28, 'Fw→3\'', { size: 12 }));
  g.push(txt(395, 30, 'Fw→3\'', { size: 12 }));
  g.push(txt(158, 160, '3\'←Rv', { size: 12, align: 'right' }));
  g.push(txt(330, 160, '3\'←Rv', { size: 12, align: 'right' }));
  g.push(txt(508, 160, '3\'←Rv', { size: 12, align: 'right' }));
  g.push(txt(567, 29, 'rnh201Δ', { size: 12 }));
  g.push(txt(569, 160, 'WT', { size: 12 }));
  g.push(txt(117, 30, 'Indel', { size: 11.5 }));
  g.push(txt(115, 43, 'position', { size: 11.5 }));
  g.push(ln(104, 46, 114, 35, { color: '#ee3a3a', w: 0.8 }));
  g.push(txt(158, 290, '(base)', { size: 12 }));
  g.push(txt(332, 290, '(base)', { size: 12 }));
  g.push(txt(498, 290, '(base)', { size: 12 }));
  g.push(txt(672, 290, '(base)', { size: 12 }));
  g.push(txt(158, 475, '(base)', { size: 12 }));
  g.push(txt(12, 397, 'GC content', { size: 15, rot: Math.PI / 2, align: 'center' }));

  // (f) schematic
  g.push(txt(182, 328, '(dpm)', { size: 12 }));
  g.push(txt(195, 391, 'rNMP level', { size: 15, rot: Math.PI / 2, align: 'center' }));
  g.push(txt(233, 325, 'Non-overlapping bins (42 bases)', { size: 12 }));
  [255, 262, 269, 276, 283, 290, 297, 304, 311, 318].forEach((x) => g.push(ln(x, 352, x, 459, { color: '#c8c8c8', w: 0.7, dash: [1, 1] })));
  g.push(rect(262, 359, 7, 100, '#b9b9b9'));
  g.push(rect(283, 383, 6.5, 76, '#f58ae8'));
  g.push(rect(304, 430, 7, 29, '#b9b9b9'));
  const bracket = (x1: number, x2: number, y: number) => ({
    type: 'polyline', z: 90,
    shape: { points: [[x1, y + 5], [x1 + 1, y], [(x1 + x2) / 2 - 2, y], [(x1 + x2) / 2, y - 3], [(x1 + x2) / 2 + 2, y], [x2 - 1, y], [x2, y + 5]] },
    style: { stroke: '#888', lineWidth: 0.8, fill: null },
  });
  g.push(bracket(255, 276, 352));
  g.push(bracket(276, 297, 342));
  g.push(bracket(297, 318, 352));
  g.push({
    type: 'polyline', z: 92,
    shape: { points: [[218, 425], [232, 392], [247, 366], [262, 359], [276, 366], [291, 390], [305, 419], [318, 432]], smooth: 0.45 },
    style: { stroke: '#1a1aee', lineWidth: 2, fill: null },
  });
  g.push(ln(218, 335, 218, 459, { color: '#222', w: 1.2 }));
  g.push(ln(218, 459, 340, 459, { color: '#222', w: 1.2 }));
  g.push(poly([[339, 456], [346, 459], [339, 462]], '#222'));
  g.push(txt(348, 459, '3\' -end', { size: 12 }));
  g.push(ln(262, 359, 327, 359, { color: '#777', w: 0.8 }));
  g.push(ln(304, 430, 327, 430, { color: '#777', w: 0.8 }));
  g.push(ln(324, 359, 324, 430, { color: '#444', w: 1 }));
  g.push(ln(324, 430, 324, 459, { color: '#444', w: 1 }));
  g.push(txt(331, 397, 'Δ rNMP', { size: 12 }));
  g.push(txt(329, 445, 'Background', { size: 12 }));
  g.push(txt(265, 466, '{m|A}{s|i-3}', { size: 11, align: 'center', rich: richSet(11) }));
  g.push(txt(286, 468, '{m|A}{s|i}', { size: 11, align: 'center', rich: richSet(11) }));
  g.push(txt(307, 466, '{m|A}{s|i+3}', { size: 11, align: 'center', rich: richSet(11) }));
  g.push(txt(268, 482, 'Target bin (14 base)', { size: 12 }));
  // formula
  g.push(txt(420, 339, 'rNMP Transition Metric (RTM):', { size: 12 }));
  g.push(txt(486, 354, 'Δ rNMP(dpm)', { size: 12, align: 'center' }));
  g.push(ln(427, 361, 543, 361, { color: '#222', w: 1 }));
  g.push(txt(486, 368, 'Background(dpm) +1', { size: 12, align: 'center' }));
  g.push(txt(550, 363, '=', { size: 12, align: 'center' }));
  g.push(txt(613, 354, '{m|rNMP}{s|Ai-3}{m| - rNMP}{s|Ai+3}', { size: 12, align: 'center', rich: R12 }));
  g.push(ln(558, 361, 672, 361, { color: '#222', w: 1 }));
  g.push(txt(613, 371, '{m|rNMP}{s|Ai+3}{m| +1}', { size: 12, align: 'center', rich: R12 }));
  g.push(poly([[520, 378], [536, 378], [528, 386]], '#111'));
  g.push(txt(417, 397, 'Merge strand RMTs', { size: 12 }));
  g.push(txt(417, 410, '{m|RTM}{s|(Ai) strand}', { size: 12, rich: R12 }));
  g.push(txt(461, 425, '{m|= max(RTM}{s|(Ai) Watson strand}{m| , RTM}{s|(Ai) Crick strand}{m|)}', { size: 12, rich: R12 }));
  g.push(poly([[520, 433], [536, 433], [528, 441]], '#111'));
  g.push(txt(417, 451, 'Merge overlapping RMTs', { size: 12 }));
  g.push(txt(417, 464, '{m|RTM}{s|(Ai)}{m|  =max(RTM}{s|(Ai-1)}{m|, RTM}{s|(Ai)}{m|, RTM}{s|(Ai+1)}{m|)}', { size: 12, rich: R12 }));

  // (g)/(h) decorations
  g.push(txt(30, 503, '{m|(bp}{p|-1}{m|)}', { size: 11, rich: richSet(11) }));
  g.push(txt(257, 503, '{m|(bp}{p|-1}{m|)}', { size: 11, rich: richSet(11) }));
  g.push(txt(139, 503, 'rnh201Δ', { size: 14, italic: true, align: 'center' }));
  g.push(txt(367, 500, 'WT', { size: 18, align: 'center' }));
  g.push(txt(12, 572, 'DIP rate', { size: 16, rot: Math.PI / 2, align: 'center' }));
  g.push(txt(241, 576, 'DIP rate', { size: 16, rot: Math.PI / 2, align: 'center' }));
  g.push(txt(214, 689, '(base)', { size: 11.5, align: 'center' }));
  g.push(txt(442, 689, '(base)', { size: 11, align: 'center' }));
  const legY = [533, 539, 545, 551, 557, 563, 569, 575, 581, 587];
  legY.forEach((y, k) => {
    g.push(ln(176, y, 188, y, { color: gColors[k], w: 2.4 }));
    g.push(ln(403, y, 413, y, { color: hColors[k], w: 2.4 }));
  });
  g.push(txt(213, 524, 'RTM', { size: 12, align: 'right' }));
  g.push(txt(189, 537, 'High', { size: 12 }));
  g.push(txt(190, 586, 'Low', { size: 12 }));
  g.push(txt(441, 524, 'RTM', { size: 12, align: 'right' }));
  g.push(txt(414, 537, 'High', { size: 12 }));
  g.push(txt(418, 587, 'Low', { size: 12 }));

  // (i) decorations
  g.push(txt(504, 505, '{m|(bp}{p|-1}{m|)}', { size: 11, rich: richSet(11) }));
  g.push(txt(488, 591, 'DIP rate', { size: 16, rot: Math.PI / 2, align: 'center' }));
  g.push(txt(603, 690, 'Median RTM of fraction', { size: 14, align: 'center' }));
  g.push({ type: 'circle', z: 95, shape: { cx: 538, cy: 529, r: 2.6 }, style: { fill: '#b35cf0' } });
  g.push({ type: 'circle', z: 95, shape: { cx: 538, cy: 544, r: 2.2 }, style: { fill: 'none', stroke: '#f39a2b', lineWidth: 1 } });
  g.push(txt(545, 529, '{m|RTM}{s|WT}{m| : R}{p|2}{m| = 0.96}', { size: 13, rich: R13 }));
  g.push(txt(545, 544, '{m|RTM}{s|rnh201Δ}{m|  : R}{p|2}{m| = 0.95}', { size: 13, rich: R13 }));

  // (j) decorations
  g.push(txt(13, 806, 'True positive rate', { size: 15, rot: Math.PI / 2, align: 'center' }));
  g.push(txt(33, 787, '(Sensitivity)', { size: 15, rot: Math.PI / 2, align: 'center' }));
  g.push(txt(137, 887, 'False positive rate', { size: 14.5, align: 'center' }));
  g.push(txt(137, 902, '(1-Specificity)', { size: 14.5, align: 'center' }));
  g.push(ln(100, 834, 116, 834, { color: '#9a34f0', w: 2 }));
  g.push(ln(100, 851, 116, 851, { color: '#f9a41e', w: 2 }));
  g.push(txt(120, 834, '{m|RTM}{s|WT}{m| (0.846)}', { size: 12, rich: R12 }));
  g.push(txt(120, 851, '{m|RTM}{s|rnh201Δ}{m| (0.887)}', { size: 12, rich: R12 }));

  // (k) decorations
  g.push(txt(425, 701, 'DIP frequency', { size: 12 }));
  g.push(txt(428, 712, '(DIPs / bp)', { size: 11.5 }));
  g.push(txt(455, 873, '(%)', { size: 12 }));
  const legK: any[] = [[289, 887, 0], [370, 887, 1], [289, 899, 2], [392, 899, 3], [424, 899, 4]];
  legK.forEach(([x, y, j]: any) => {
    g.push(rect(x, y - 4.5, 7, 9, kColors[j], '#444', { z: 90 }));
    g.push(txt(x + 8, y, kNames[j], { size: 11 }));
  });

  // (l) schematic
  g.push(rect(535, 723, 16, 170, '#bfeefa', undefined, { z: 60 }));
  g.push(rect(551, 723, 98, 170, '#fdf5dc', undefined, { z: 60 }));
  g.push(rect(649, 723, 17, 170, '#bfeefa', undefined, { z: 60 }));
  g.push(rect(649, 745, 18, 65, 'none', '#1f3a8a', { z: 85, lw: 1, dash: [3, 2] }));
  g.push(rect(533, 823, 17, 32, 'none', '#1f3a8a', { z: 85, lw: 1, dash: [3, 2] }));
  g.push(ln(658, 745, 658, 716, { color: '#1f3a8a', w: 0.8, dash: [2, 2] }));
  g.push(poly([[655, 722], [661, 722], [658, 717]], '#2a3a8a'));
  g.push(poly([[655, 742], [661, 742], [658, 737]], '#2a3a8a'));
  g.push({
    type: 'polyline', z: 92,
    shape: { points: [[548, 808], [575, 785], [605, 766], [635, 753], [647, 752], [655, 765], [661, 788], [664, 808]], smooth: 0.4 },
    style: { stroke: '#f39321', lineWidth: 5, fill: null, lineCap: 'round' },
  });
  g.push({
    type: 'polyline', z: 92,
    shape: { points: [[653, 824], [628, 831], [600, 840], [570, 848], [550, 851], [539, 846], [535, 835], [535, 826]], smooth: 0.4 },
    style: { stroke: '#6cbf3a', lineWidth: 5, fill: null, lineCap: 'round' },
  });
  g.push(ln(525, 810, 692, 810, { color: '#111', w: 1.2 }));
  g.push(poly([[690, 807], [697, 810], [690, 813]], '#111'));
  g.push(ln(532, 823, 700, 823, { color: '#111', w: 1.2 }));
  g.push(poly([[537, 820], [530, 823], [537, 826]], '#111'));
  g.push(txt(521, 807, '5\'', { size: 12 }));
  g.push(txt(523, 822, '3\'', { size: 12 }));
  g.push(ln(576, 778, 592, 766, { color: '#f23a2a', w: 3 }));
  g.push(poly([[599, 761], [594.7, 768.8], [589.8, 762.2]], '#f23a2a'));
  g.push(ln(627, 843, 616, 847.5, { color: '#4cb84a', w: 1.5 }));
  g.push(poly([[611, 849.5], [617.5, 850.5], [615.5, 844.5]], '#4cb84a'));
  g.push(ln(586, 783, 594, 790, { color: '#222', w: 0.7 }));
  g.push(ln(623, 808, 643, 826, { color: '#222', w: 0.7 }));
  g.push(txt(618, 715, 'Indel hotspot', { size: 12, bold: true }));
  g.push(txt(559, 735, '{b|Repair: }{r|High}', { size: 12, rich: R12 }));
  g.push(txt(646, 735, 'Low', { size: 12, bold: true, color: '#29a9df' }));
  g.push(txt(537, 750, 'Leading', { size: 11 }));
  g.push(txt(542, 787, 'Low', { size: 12, color: '#f39321' }));
  g.push(txt(620, 767, 'High', { size: 12, color: '#f39321' }));
  g.push(txt(612, 793, '“Yin yang”', { size: 10.5, bold: true, align: 'center' }));
  g.push(txt(608, 804, 'rNMP incorporation', { size: 10.5, align: 'center' }));
  g.push(txt(555, 838, 'High', { size: 12, color: '#6cbf3a' }));
  g.push(txt(647, 837, 'Low', { size: 12, color: '#6cbf3a' }));
  g.push(txt(650, 849, 'AT rich', { size: 12, bold: true }));
  g.push(txt(650, 862, 'Promoter', { size: 12 }));
  g.push(txt(650, 874, 'Terminator', { size: 12 }));
  g.push(txt(650, 886, 'Intron', { size: 12 }));
  g.push(txt(557, 864, 'Genebody Exon', { size: 12 }));
  g.push(txt(579, 877, 'GC rich', { size: 12, bold: true }));
  g.push(txt(537, 885, 'Lagging', { size: 11 }));

  return {
    animation: false,
    backgroundColor: '#ffffff',
    textStyle: { fontFamily: FONT },
    grid, xAxis, yAxis, series,
    graphic: { elements: g },
  };
}

export default function App() {
  const ref = useRef<HTMLDivElement>(null);
  useEffect(() => {
    if (!ref.current) return;
    const chart = echarts.init(ref.current, null, { renderer: 'svg' });
    chart.setOption(buildOption() as any);
    return () => chart.dispose();
  }, []);
  return <div ref={ref} style={{ position: 'absolute', left: 0, top: 0, width: 709, height: 912, background: '#fff' }} />;
}
